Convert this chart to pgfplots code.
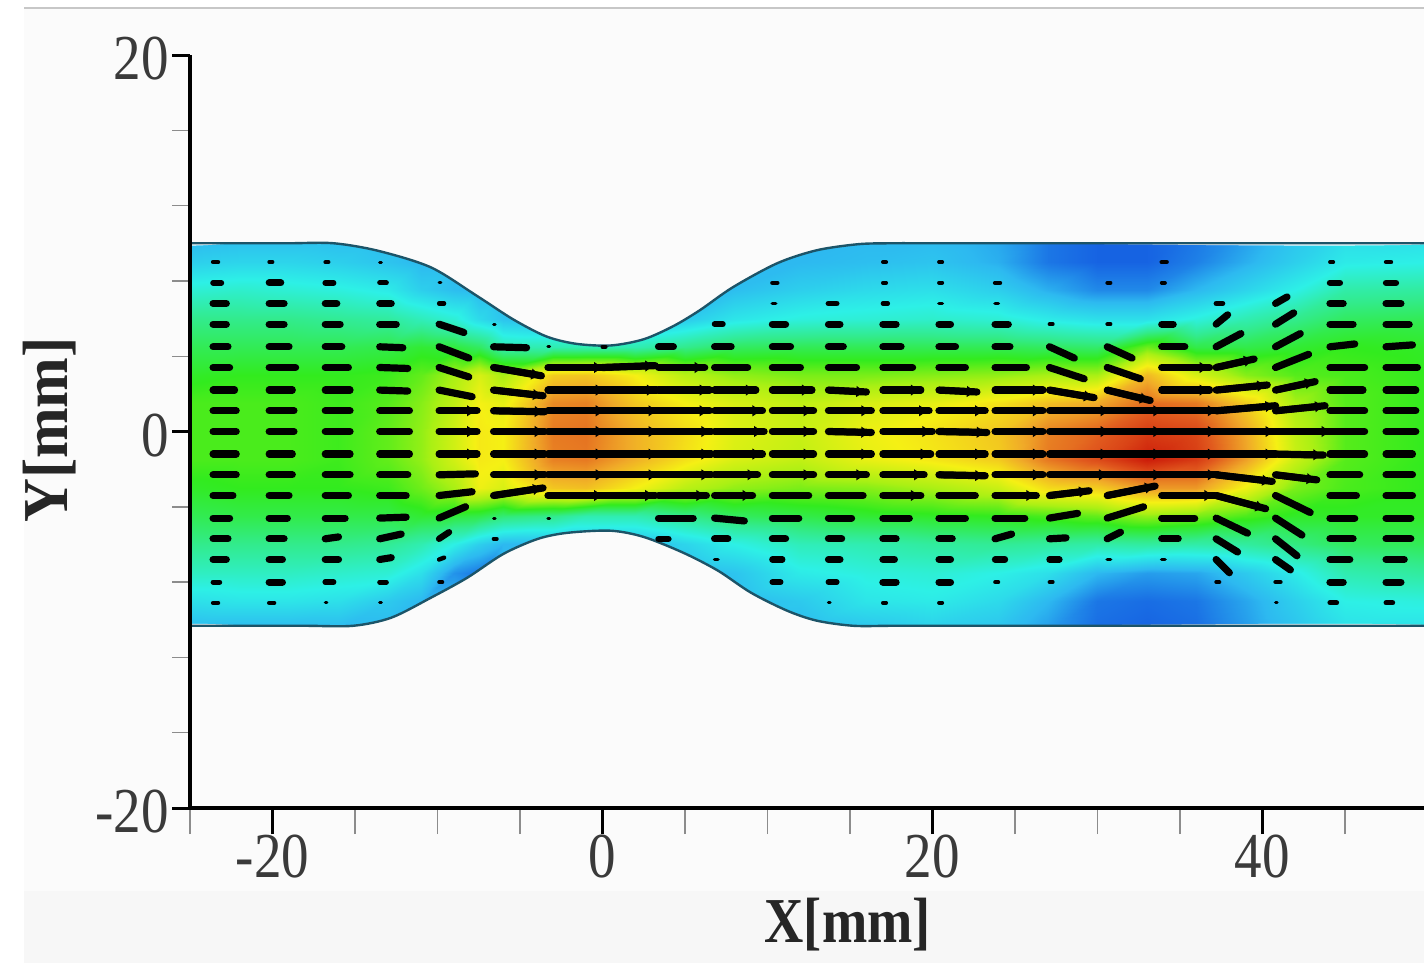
\documentclass[border=0pt]{standalone}
\usepackage{fontspec}
\setmainfont{Liberation Serif}
\newfontfamily\tickfont[FakeStretch=.86]{Liberation Serif}
\newfontfamily\xlabfont[FakeStretch=.85]{Liberation Serif Bold}
\newfontfamily\ylabfont[FakeStretch=.95]{Liberation Serif Bold}
\usepackage{pgfplots}
\usepackage{pgfplotstable}
\pgfplotsset{compat=1.18}
\usetikzlibrary{arrows.meta}
\definecolor{bgc}{HTML}{FBFBFB}
\definecolor{wallc}{HTML}{1C5468}
\definecolor{textc}{HTML}{3A3A3A}

% velocity vectors: x y u v, column by column
\pgfplotstableread[row sep=\\]{
x y u v\\
-23.6 9 .3 0\\ -23.6 7.9 .5 0\\ -23.6 6.8 .8 0\\ -23.6 5.7 .8 0\\ -23.6 4.5 .9 0\\ -23.6 3.4 1 0\\ -23.6 2.2 1.3 0\\ -23.6 1.1 1.4 0\\ -23.6 0 1.4 0\\ -23.6 -1.2 1.4 0\\ -23.6 -2.3 1.4 0\\ -23.6 -3.4 1.2 0\\ -23.6 -4.6 1 0\\ -23.6 -5.7 .9 0\\ -23.6 -6.8 .8 0\\ -23.6 -8 .4 0\\ -23.6 -9.1 .3 0\\
-20.2 9 .2 0\\ -20.2 7.9 .7 0\\ -20.2 6.8 .9 0\\ -20.2 5.7 .9 0\\ -20.2 4.5 1.2 0\\ -20.2 3.4 1.6 0\\ -20.2 2.2 1.4 0\\ -20.2 1.1 1.5 0\\ -20.2 0 1.5 0\\ -20.2 -1.2 1.4 0\\ -20.2 -2.3 1.4 0\\ -20.2 -3.4 1.2 0\\ -20.2 -4.6 1.1 0\\ -20.2 -5.7 .9 0\\ -20.2 -6.8 .8 0\\ -20.2 -8 .8 0\\ -20.2 -9.1 .3 0\\
-16.8 9 .2 0\\ -16.8 7.9 .5 0\\ -16.8 6.8 .7 0\\ -16.8 5.7 .9 0\\ -16.8 4.5 1 0\\ -16.8 3.4 1.4 0\\ -16.8 2.2 1.5 0\\ -16.8 1.1 1.5 0\\ -16.8 0 1.5 0\\ -16.8 -1.2 1.5 0\\ -16.8 -2.3 1.5 0\\ -16.8 -3.4 1.4 0\\ -16.8 -4.6 1.2 0\\ -16.8 -5.7 .8 .1\\ -16.8 -6.8 .8 0\\ -16.8 -8 .5 0\\ -16.8 -9.1 .1 0\\
-13.5 9 .1 0\\ -13.5 7.9 .4 0\\ -13.5 6.8 .7 0\\ -13.5 5.7 1 0\\ -13.5 4.5 1.4 -.05\\ -13.5 3.4 1.7 -.05\\ -13.5 2.2 1.7 -.05\\ -13.5 1.1 1.8 0\\ -13.5 0 1.8 0\\ -13.5 -1.2 1.8 0\\ -13.5 -2.3 1.7 0\\ -13.5 -3.4 1.6 0\\ -13.5 -4.6 1.6 .05\\ -13.5 -5.7 1.3 .25\\ -13.5 -6.8 .7 .1\\ -13.5 -8 .4 0\\ -13.5 -9.1 .1 0\\
-9.9 7.9 .1 0\\ -9.9 6.8 .3 0\\ -9.9 5.7 1.5 -.44\\ -9.9 4.5 1.8 -.6\\ -9.9 3.4 1.8 -.5\\ -9.9 2.2 2 -.35\\ -9.9 1.1 2.3 0\\ -9.9 0 2.3 0\\ -9.9 -1.2 2.3 0\\ -9.9 -2.3 2.2 .05\\ -9.9 -3.4 2 .2\\ -9.9 -4.6 1.6 .6\\ -9.9 -5.7 .6 .35\\ -9.9 -6.8 .3 .1\\ -9.9 -8 .2 0\\
-6.6 5.7 .1 0\\ -6.6 4.5 2 -.05\\ -6.6 3.4 2.9 -.44\\ -6.6 2.2 3 -.3\\ -6.6 1.1 3.1 -.05\\ -6.6 0 3.1 0\\ -6.6 -1.2 3.1 0\\ -6.6 -2.3 3.1 0\\ -6.6 -3.4 3 .4\\ -6.6 -4.6 .1 0\\ -6.6 -5.7 .2 0\\
-3.3 4.5 .1 0\\ -3.3 3.4 3.4 0\\ -3.3 2.2 3.5 0\\ -3.3 1.1 3.5 0\\ -3.3 0 3.5 0\\ -3.3 -1.2 3.5 0\\ -3.3 -2.3 3.5 0\\ -3.3 -3.4 3.4 0\\ -3.3 -4.6 .1 0\\
0 4.5 .2 0\\ 0 3.4 3.2 .1\\ 0 2.2 3.3 0\\ 0 1.1 3.4 0\\ 0 0 3.4 0\\ 0 -1.2 3.4 0\\ 0 -2.3 3.4 0\\ 0 -3.4 3.2 0\\
3.4 4.5 .9 0\\ 3.4 3.4 2.8 0\\ 3.4 2.2 3.1 0\\ 3.4 1.1 3.1 0\\ 3.4 0 3.2 0\\ 3.4 -1.2 3.2 0\\ 3.4 -2.3 3.2 0\\ 3.4 -3.4 2.9 0\\ 3.4 -4.6 2.1 0\\ 3.4 -5.7 .6 0\\
6.8 5.7 .5 0\\ 6.8 4.5 1 0\\ 6.8 3.4 2 0\\ 6.8 2.2 2.5 0\\ 6.8 1.1 2.9 0\\ 6.8 0 3 0\\ 6.8 -1.2 2.9 0\\ 6.8 -2.3 2.6 0\\ 6.8 -3.4 2.3 0\\ 6.8 -4.6 1.8 -.15\\ 6.8 -5.7 .8 0\\ 6.8 -6.8 .2 0\\
10.3 7.9 .3 0\\ 10.3 6.8 .2 0\\ 10.3 5.7 .8 0\\ 10.3 4.5 1.1 0\\ 10.3 3.4 1.7 0\\ 10.3 2.2 2.4 0\\ 10.3 1.1 2.5 0\\ 10.3 0 2.5 0\\ 10.3 -1.2 2.5 0\\ 10.3 -2.3 2.5 0\\ 10.3 -3.4 2.2 0\\ 10.3 -4.6 1.6 0\\ 10.3 -5.7 .8 0\\ 10.3 -6.8 .6 0\\ 10.3 -8 .5 0\\
13.7 6.8 .5 0\\ 13.7 5.7 .7 0\\ 13.7 4.5 .9 0\\ 13.7 3.4 1.7 0\\ 13.7 2.2 2.3 -.1\\ 13.7 1.1 2.6 0\\ 13.7 0 2.6 -.05\\ 13.7 -1.2 2.6 0\\ 13.7 -2.3 2.3 0\\ 13.7 -3.4 2.1 0\\ 13.7 -4.6 1.4 0\\ 13.7 -5.7 .8 0\\ 13.7 -6.8 .7 0\\ 13.7 -8 .5 0\\ 13.7 -9.1 .1 0\\
17 9 .2 0\\ 17 7.9 .2 0\\ 17 6.8 .3 0\\ 17 5.7 .8 0\\ 17 4.5 1.1 0\\ 17 3.4 1.8 0\\ 17 2.2 2.3 0\\ 17 1.1 2.8 0\\ 17 0 3 0\\ 17 -1.2 2.9 0\\ 17 -2.3 2.5 0\\ 17 -3.4 2.3 0\\ 17 -4.6 1.6 0\\ 17 -5.7 .8 0\\ 17 -6.8 .7 0\\ 17 -8 .8 0\\ 17 -9.1 .2 0\\
20.4 9 .2 0\\ 20.4 7.9 .2 0\\ 20.4 6.8 .2 0\\ 20.4 5.7 .7 0\\ 20.4 4.5 1 0\\ 20.4 3.4 1.6 0\\ 20.4 2.2 2.3 -.1\\ 20.4 1.1 2.8 0\\ 20.4 0 2.9 -.05\\ 20.4 -1.2 2.8 0\\ 20.4 -2.3 2.8 -.05\\ 20.4 -3.4 2.2 0\\ 20.4 -4.6 1.6 0\\ 20.4 -5.7 .8 0\\ 20.4 -6.8 .7 0\\ 20.4 -8 .7 0\\ 20.4 -9.1 .2 0\\
23.8 7.9 .3 0\\ 23.8 6.8 .2 0\\ 23.8 5.7 .8 0\\ 23.8 4.5 .9 0\\ 23.8 3.4 1.9 0\\ 23.8 2.2 2.9 0\\ 23.8 1.1 2.9 0\\ 23.8 0 2.9 0\\ 23.8 -1.2 2.9 0\\ 23.8 -2.3 2.9 0\\ 23.8 -3.4 2.5 0\\ 23.8 -4.6 1.8 0\\ 23.8 -5.7 1 .25\\ 23.8 -6.8 .6 0\\ 23.8 -8 .2 0\\
27.1 5.7 .2 0\\ 27.1 4.5 1.5 -.6\\ 27.1 3.4 2.1 -.6\\ 27.1 2.2 2.7 -.4\\ 27.1 1.1 3.7 0\\ 27.1 0 3.7 0\\ 27.1 -1.2 3.7 0\\ 27.1 -2.3 3.6 0\\ 27.1 -3.4 2.4 .25\\ 27.1 -4.6 1.7 .25\\ 27.1 -5.7 1 .05\\ 27.1 -6.8 .6 0\\ 27.1 -8 .2 0\\
30.6 7.9 .2 0\\ 30.6 5.7 .2 0\\ 30.6 4.5 1.5 -.6\\ 30.6 3.4 2 -.6\\ 30.6 2.2 2.6 -.55\\ 30.6 1.1 3.4 0\\ 30.6 0 3.4 0\\ 30.6 -1.2 3.4 0\\ 30.6 -2.3 3.4 0\\ 30.6 -3.4 2.9 .5\\ 30.6 -4.6 2.2 .6\\ 30.6 -5.7 .8 .35\\ 30.6 -6.8 .2 0\\
33.9 9 .3 0\\ 33.9 7.9 .2 0\\ 33.9 5.7 .7 0\\ 33.9 4.5 1.4 0\\ 33.9 3.4 2.9 0\\ 33.9 2.2 2.9 0\\ 33.9 1.1 3.4 0\\ 33.9 0 3.4 0\\ 33.9 -1.2 3.4 0\\ 33.9 -2.3 3.4 0\\ 33.9 -3.4 3.2 0\\ 33.9 -4.6 2 0\\ 33.9 -5.7 1 0\\ 33.9 -6.8 .2 0\\
37.2 6.8 .4 0\\ 37.2 5.7 .7 .5\\ 37.2 4.5 1.5 .7\\ 37.2 3.4 2.3 .45\\ 37.2 2.2 3.1 .27\\ 37.2 1.1 3.6 .27\\ 37.2 0 3.6 0\\ 37.2 -1.2 3.6 0\\ 37.2 -2.3 3.4 -.35\\ 37.2 -3.4 3 -.7\\ 37.2 -4.6 1.9 -.8\\ 37.2 -5.7 1.3 -.7\\ 37.2 -6.8 .8 -.7\\ 37.2 -8 .2 0\\
40.8 6.8 .7 .35\\ 40.8 5.7 1.1 .6\\ 40.8 4.5 1.5 .7\\ 40.8 3.4 2 .7\\ 40.8 2.2 2.4 .45\\ 40.8 1.1 3 .27\\ 40.8 0 3.4 0\\ 40.8 -1.2 2.9 -.05\\ 40.8 -2.3 2.5 -.27\\ 40.8 -3.4 2.1 -.9\\ 40.8 -4.6 1.6 -.9\\ 40.8 -5.7 1.3 -.9\\ 40.8 -6.8 .9 -.55\\ 40.8 -8 .3 0\\ 40.8 -9.1 .1 0\\
44.1 9 .2 0\\ 44.1 7.9 .6 0\\ 44.1 6.8 .8 0\\ 44.1 5.7 1.4 0\\ 44.1 4.5 1.5 .15\\ 44.1 3.4 2.1 0\\ 44.1 2.2 2 0\\ 44.1 1.1 2.1 0\\ 44.1 0 2.1 0\\ 44.1 -1.2 2.1 0\\ 44.1 -2.3 1.8 0\\ 44.1 -3.4 1.6 0\\ 44.1 -4.6 1.5 0\\ 44.1 -5.7 1.4 0\\ 44.1 -6.8 1.2 0\\ 44.1 -8 .8 0\\ 44.1 -9.1 .4 0\\
47.5 9 .3 0\\ 47.5 7.9 .6 0\\ 47.5 6.8 .9 0\\ 47.5 5.7 1.4 0\\ 47.5 4.5 1.6 .1\\ 47.5 3.4 1.9 0\\ 47.5 2.2 1.8 0\\ 47.5 1.1 1.8 0\\ 47.5 0 1.8 0\\ 47.5 -1.2 1.6 0\\ 47.5 -2.3 1.6 0\\ 47.5 -3.4 1.6 0\\ 47.5 -4.6 1.5 0\\ 47.5 -5.7 1.5 0\\ 47.5 -6.8 1.1 0\\ 47.5 -8 .9 0\\ 47.5 -9.1 .4 0\\
}\arrowdata

\begin{document}
\begin{tikzpicture}[x=1pt,y=1pt]
% page, 1 px = 0.5 pt
\path[use as bounding box] (0,0) rectangle (712,482.5);
\fill[white] (0,0) rectangle (712,482.5);
\fill[bgc] (12,1) rectangle (712,478.5);
\fill[black!3] (12,1) rectangle (712,37);
\fill[black!22] (12,478) rectangle (712,478.8);
\begin{axis}[
    at={(95pt,78.5pt)}, anchor=south west,
    scale only axis,
    width=617pt, height=376.5pt,
    xmin=-25, xmax=49.8, ymin=-20, ymax=20,
    axis x line*=bottom, axis y line*=left,
    axis line style={black, line width=1.7pt},
    axis on top,
    xtick={-20,0,20,40}, ytick={-20,0,20},
    minor xtick={-25,-15,-10,-5,5,10,15,25,30,35,45},
    minor ytick={-16,-12,-8,-4,4,8,12,16},
    tick align=outside,
    major tick length=9pt, minor tick length=9pt,
    xtick style={/pgfplots/major tick length=13pt, /pgfplots/minor tick length=13pt},
    major tick style={black, line width=1.5pt},
    minor tick style={black!45, line width=.7pt},
    tick label style={font=\tickfont\fontsize{32}{32}\selectfont, text=textc},
    /pgf/number format/assume math mode=true,
    xticklabel style={yshift=-1pt},
    yticklabel style={xshift=2pt, yshift=-2pt},
    xlabel={X[mm]}, ylabel={Y[mm]},
    xlabel style={font=\xlabfont\fontsize{32}{32}\selectfont, text=black!85,
        at={(axis description cs:0.533,-0.155)}, anchor=center},
    ylabel style={font=\ylabfont\fontsize{32}{32}\selectfont, text=black!85,
        at={(axis description cs:-0.1135,0.502)}, anchor=center},
    colormap={cfd}{rgb255(0cm)=(20,90,225) rgb255(1cm)=(45,185,240)
        rgb255(2cm)=(45,240,230) rgb255(3cm)=(50,235,140)
        rgb255(4cm)=(50,235,30) rgb255(5cm)=(170,240,20)
        rgb255(6cm)=(245,240,20) rgb255(7cm)=(240,170,40)
        rgb255(8cm)=(225,90,30) rgb255(9cm)=(205,30,10)},
    point meta min=0, point meta max=9,
]
% contour field
\addplot[surf, shader=interp, mesh/cols=26, forget plot, point meta=\thisrow{c}]
  table[x=x, y=y, row sep=\\] {
x y c\\
-25 10.5 .9\\ -22 10.5 1\\ -19 10.5 1\\ -16 10.5 1\\ -13 10.5 1\\ -11 10.5 1\\ -9 10.5 1\\ -7.5 10.5 1\\ -6 10.5 1\\ -3 10.5 1\\ -1 10.5 1\\ 2 10.5 1\\ 5 10.5 1\\ 8 10.5 1\\ 12 10.5 1\\ 16 10.5 1\\ 20 10.5 1\\ 24 10.5 .8\\ 27 10.5 .3\\ 30 10.5 .1\\ 33 10.5 .1\\ 36 10.5 .3\\ 39 10.5 .7\\ 42 10.5 1.2\\ 45 10.5 1.6\\ 50 10.5 1.6\\
-25 9 1.4\\ -22 9 1.5\\ -19 9 1.5\\ -16 9 1.4\\ -13 9 1.2\\ -11 9 1\\ -9 9 1\\ -7.5 9 1\\ -6 9 1\\ -3 9 1\\ -1 9 1\\ 2 9 1\\ 5 9 1\\ 8 9 1\\ 12 9 1\\ 16 9 1.1\\ 20 9 1.2\\ 24 9 .9\\ 27 9 .3\\ 30 9 .1\\ 33 9 .1\\ 36 9 .4\\ 39 9 .9\\ 42 9 1.4\\ 45 9 1.9\\ 50 9 2\\
-25 7.5 2.2\\ -22 7.5 2.3\\ -19 7.5 2.2\\ -16 7.5 2.1\\ -13 7.5 1.9\\ -11 7.5 1.4\\ -9 7.5 1.1\\ -7.5 7.5 1\\ -6 7.5 1\\ -3 7.5 1\\ -1 7.5 1\\ 2 7.5 1\\ 5 7.5 1\\ 8 7.5 1.1\\ 12 7.5 1.4\\ 16 7.5 1.6\\ 20 7.5 1.7\\ 24 7.5 1.4\\ 27 7.5 .9\\ 30 7.5 .5\\ 33 7.5 .5\\ 36 7.5 1\\ 39 7.5 1.5\\ 42 7.5 2\\ 45 7.5 2.7\\ 50 7.5 2.8\\
-25 6 3\\ -22 6 3\\ -19 6 3\\ -16 6 2.9\\ -13 6 2.8\\ -11 6 2.5\\ -9 6 2.2\\ -7.5 6 1.6\\ -6 6 1.2\\ -3 6 1\\ -1 6 1\\ 2 6 1\\ 5 6 1.3\\ 8 6 1.8\\ 12 6 2.1\\ 16 6 2.2\\ 20 6 2.3\\ 24 6 2.2\\ 27 6 1.9\\ 30 6 1.7\\ 33 6 1.7\\ 36 6 2.1\\ 39 6 2.6\\ 42 6 3\\ 45 6 3.4\\ 50 6 3.5\\
-25 4.5 3.5\\ -22 4.5 3.5\\ -19 4.5 3.5\\ -16 4.5 3.5\\ -13 4.5 3.6\\ -11 4.5 3.8\\ -9 4.5 3.7\\ -7.5 4.5 3.4\\ -6 4.5 2.6\\ -3 4.5 2.6\\ -1 4.5 2.6\\ 2 4.5 2.6\\ 5 4.5 3\\ 8 4.5 3.4\\ 12 4.5 3.5\\ 16 4.5 3.5\\ 20 4.5 3.5\\ 24 4.5 3.5\\ 27 4.5 3.4\\ 30 4.5 3.3\\ 33 4.5 4.5\\ 36 4.5 3.6\\ 39 4.5 3.6\\ 42 4.5 3.8\\ 45 4.5 4\\ 50 4.5 3.9\\
-25 3 3.9\\ -22 3 4\\ -19 3 4\\ -16 3 4\\ -13 3 4.1\\ -11 3 4.4\\ -9 3 5\\ -7.5 3 5.6\\ -6 3 5\\ -3 3 6.5\\ -1 3 6.6\\ 2 3 6\\ 5 3 5.2\\ 8 3 4.8\\ 12 3 4.6\\ 16 3 4.6\\ 20 3 4.7\\ 24 3 4.8\\ 27 3 5\\ 30 3 5\\ 33 3 6.8\\ 36 3 5.6\\ 39 3 4.7\\ 42 3 4.3\\ 45 3 4.2\\ 50 3 4\\
-25 1.5 4.2\\ -22 1.5 4.2\\ -19 1.5 4.2\\ -16 1.5 4.1\\ -13 1.5 4.3\\ -11 1.5 4.7\\ -9 1.5 5.3\\ -7.5 1.5 6\\ -6 1.5 5.8\\ -3 1.5 7.4\\ -1 1.5 7.5\\ 2 1.5 6.6\\ 5 1.5 6\\ 8 1.5 5.6\\ 12 1.5 5.3\\ 16 1.5 5.6\\ 20 1.5 5.8\\ 24 1.5 6.2\\ 27 1.5 6.7\\ 30 1.5 7\\ 33 1.5 7.8\\ 36 1.5 7.6\\ 39 1.5 6.5\\ 42 1.5 5\\ 45 1.5 4.3\\ 50 1.5 4\\
-25 0 4.2\\ -22 0 4.2\\ -19 0 4.2\\ -16 0 4.1\\ -13 0 4.4\\ -11 0 4.8\\ -9 0 5.5\\ -7.5 0 6.1\\ -6 0 6\\ -3 0 7.6\\ -1 0 7.7\\ 2 0 6.9\\ 5 0 6.3\\ 8 0 5.7\\ 12 0 5.4\\ 16 0 5.9\\ 20 0 6.2\\ 24 0 6.6\\ 27 0 7.5\\ 30 0 7.9\\ 33 0 8.5\\ 36 0 8.3\\ 39 0 7\\ 42 0 5.3\\ 45 0 4.3\\ 50 0 4\\
-25 -1.5 4.2\\ -22 -1.5 4.2\\ -19 -1.5 4.2\\ -16 -1.5 4.1\\ -13 -1.5 4.4\\ -11 -1.5 4.8\\ -9 -1.5 5.5\\ -7.5 -1.5 6.1\\ -6 -1.5 6\\ -3 -1.5 7.5\\ -1 -1.5 7.6\\ 2 -1.5 6.9\\ 5 -1.5 6.2\\ 8 -1.5 5.6\\ 12 -1.5 5.3\\ 16 -1.5 5.8\\ 20 -1.5 6.1\\ 24 -1.5 6.5\\ 27 -1.5 7.6\\ 30 -1.5 8.2\\ 33 -1.5 9\\ 36 -1.5 8.5\\ 39 -1.5 7.1\\ 42 -1.5 5.4\\ 45 -1.5 4.3\\ 50 -1.5 4\\
-25 -3 3.9\\ -22 -3 4\\ -19 -3 4\\ -16 -3 4\\ -13 -3 4.1\\ -11 -3 4.5\\ -9 -3 5\\ -7.5 -3 5.9\\ -6 -3 5.6\\ -3 -3 6.6\\ -1 -3 6.7\\ 2 -3 6\\ 5 -3 5.2\\ 8 -3 4.8\\ 12 -3 4.6\\ 16 -3 4.7\\ 20 -3 5\\ 24 -3 5.4\\ 27 -3 6.3\\ 30 -3 6.5\\ 33 -3 7.2\\ 36 -3 7.2\\ 39 -3 5.9\\ 42 -3 4.6\\ 45 -3 4.2\\ 50 -3 4\\
-25 -4.5 3.5\\ -22 -4.5 3.6\\ -19 -4.5 3.6\\ -16 -4.5 3.6\\ -13 -4.5 3.6\\ -11 -4.5 3.8\\ -9 -4.5 3.7\\ -7.5 -4.5 3.6\\ -6 -4.5 3.2\\ -3 -4.5 3\\ -1 -4.5 2.6\\ 2 -4.5 2.6\\ 5 -4.5 3\\ 8 -4.5 3.4\\ 12 -4.5 3.6\\ 16 -4.5 3.8\\ 20 -4.5 3.9\\ 24 -4.5 4\\ 27 -4.5 4.2\\ 30 -4.5 4.4\\ 33 -4.5 4.8\\ 36 -4.5 4.6\\ 39 -4.5 4.2\\ 42 -4.5 3.9\\ 45 -4.5 3.9\\ 50 -4.5 3.9\\
-25 -6 3\\ -22 -6 3\\ -19 -6 3\\ -16 -6 3\\ -13 -6 2.9\\ -11 -6 2.6\\ -9 -6 2\\ -7.5 -6 1.4\\ -6 -6 1\\ -3 -6 1\\ -1 -6 1\\ 2 -6 1\\ 5 -6 1.5\\ 8 -6 2\\ 12 -6 2.5\\ 16 -6 2.6\\ 20 -6 2.8\\ 24 -6 2.9\\ 27 -6 2.8\\ 30 -6 2.7\\ 33 -6 2.8\\ 36 -6 2.7\\ 39 -6 2.8\\ 42 -6 3.1\\ 45 -6 3.4\\ 50 -6 3.5\\
-25 -7.5 2.4\\ -22 -7.5 2.4\\ -19 -7.5 2.4\\ -16 -7.5 2.3\\ -13 -7.5 2.2\\ -11 -7.5 1.7\\ -9 -7.5 .6\\ -7.5 -7.5 .3\\ -6 -7.5 1\\ -3 -7.5 1\\ -1 -7.5 1\\ 2 -7.5 1\\ 5 -7.5 1\\ 8 -7.5 1.2\\ 12 -7.5 1.9\\ 16 -7.5 2.1\\ 20 -7.5 2.2\\ 24 -7.5 2\\ 27 -7.5 1.7\\ 30 -7.5 1\\ 33 -7.5 .7\\ 36 -7.5 .8\\ 39 -7.5 1.3\\ 42 -7.5 1.9\\ 45 -7.5 2.6\\ 50 -7.5 2.8\\
-25 -9 1.7\\ -22 -9 1.8\\ -19 -9 1.8\\ -16 -9 1.7\\ -13 -9 1.3\\ -11 -9 1\\ -9 -9 1\\ -7.5 -9 1\\ -6 -9 1\\ -3 -9 1\\ -1 -9 1\\ 2 -9 1\\ 5 -9 1\\ 8 -9 1\\ 12 -9 1.3\\ 16 -9 1.8\\ 20 -9 1.9\\ 24 -9 1.6\\ 27 -9 1\\ 30 -9 .3\\ 33 -9 .2\\ 36 -9 .3\\ 39 -9 .8\\ 42 -9 1.4\\ 45 -9 2\\ 50 -9 2.1\\
-25 -10.5 1\\ -22 -10.5 1\\ -19 -10.5 1\\ -16 -10.5 1\\ -13 -10.5 1\\ -11 -10.5 1\\ -9 -10.5 1\\ -7.5 -10.5 1\\ -6 -10.5 1\\ -3 -10.5 1\\ -1 -10.5 1\\ 2 -10.5 1\\ 5 -10.5 1\\ 8 -10.5 1\\ 12 -10.5 1\\ 16 -10.5 1.2\\ 20 -10.5 1.4\\ 24 -10.5 1.2\\ 27 -10.5 .7\\ 30 -10.5 .2\\ 33 -10.5 .1\\ 36 -10.5 .2\\ 39 -10.5 .7\\ 42 -10.5 1.2\\ 45 -10.5 1.7\\ 50 -10.5 1.7\\
};
% masks outside the channel
\addplot[fill=bgc, draw=none, forget plot, smooth, tension=.5] coordinates {(-26,12)(-26,10)(-22,10)(-19,10)(-16.3,10)(-13.6,9.6)(-10.4,8.72)(-7.6,7.2)(-5.4,5.95)(-3.4,5.05)(-1.6,4.66)(.5,4.57)(2.5,4.9)(4.3,5.6)(5.9,6.44)(7.9,7.66)(10.6,8.94)(13,9.63)(15.5,9.95)(17.5,10)(20,10)(25,10)(51,10)(51,12)(-26,12)};
\addplot[fill=bgc, draw=none, forget plot, smooth, tension=.5] coordinates {(-26,-12)(-26,-10.32)(-21,-10.32)(-18,-10.32)(-15.1,-10.32)(-12.8,-9.89)(-10.4,-8.83)(-8.2,-7.77)(-6,-6.5)(-3.9,-5.7)(-2.1,-5.38)(.5,-5.27)(2.5,-5.6)(4.9,-6.44)(7,-7.39)(9,-8.56)(11.2,-9.52)(13,-10.05)(15.2,-10.32)(17.5,-10.32)(20,-10.32)(25,-10.32)(51,-10.32)(51,-12)(-26,-12)};
% channel walls
\addplot[wallc, line width=1.2pt, smooth, tension=.5, forget plot] coordinates {(-25,10)(-22,10)(-19,10)(-16.3,10)(-13.6,9.6)(-10.4,8.72)(-7.6,7.2)(-5.4,5.95)(-3.4,5.05)(-1.6,4.66)(.5,4.57)(2.5,4.9)(4.3,5.6)(5.9,6.44)(7.9,7.66)(10.6,8.94)(13,9.63)(15.5,9.95)(17.5,10)(20,10)(25,10)(50,10)};
\addplot[wallc, line width=1.2pt, smooth, tension=.5, forget plot] coordinates {(-25,-10.32)(-21,-10.32)(-18,-10.32)(-15.1,-10.32)(-12.8,-9.89)(-10.4,-8.83)(-8.2,-7.77)(-6,-6.5)(-3.9,-5.7)(-2.1,-5.38)(.5,-5.27)(2.5,-5.6)(4.9,-6.44)(7,-7.39)(9,-8.56)(11.2,-9.52)(13,-10.05)(15.2,-10.32)(17.5,-10.32)(20,-10.32)(25,-10.32)(50,-10.32)};
% velocity vectors, line width follows the length
\addplot[black, forget plot, point meta={abs(\thisrow{u})},
    quiver={u=\thisrow{u}, v=\thisrow{v},
      every arrow/.append style={line cap=round,
        line width={min(3.6,1.2+0.03*\pgfplotspointmetatransformed)*1pt}}}]
  table[x=x, y=y] {\arrowdata};
% heads on the long ones
\addplot[black, forget plot, unbounded coords=discard,
    y filter/.expression={\thisrow{u}>=2.3 ? y : nan},
    quiver={u=\thisrow{u}, v=\thisrow{v},
      every arrow/.append style={line width=3.4pt, -{Latex[length=5pt,width=6pt]}}}]
  table[x=x, y=y] {\arrowdata};
\end{axis}
\end{tikzpicture}
\end{document}
